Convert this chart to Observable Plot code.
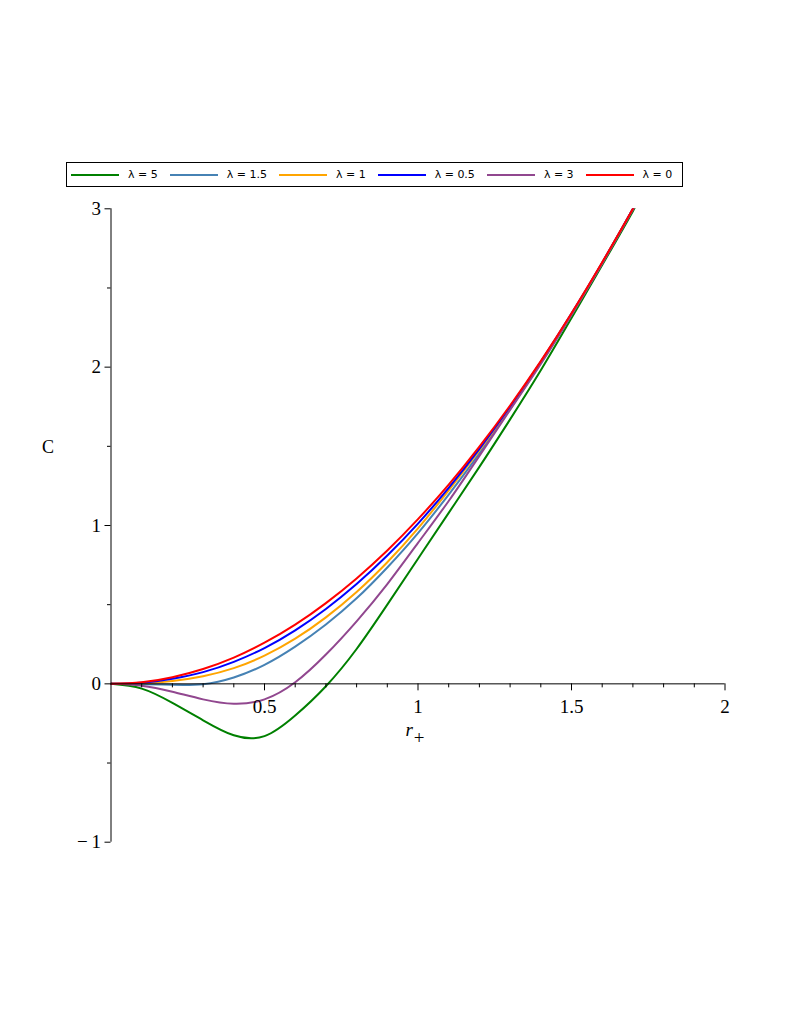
<!DOCTYPE html>
<html>
<head>
<meta charset="utf-8">
<script src="https://cdn.jsdelivr.net/npm/d3@7"></script>
<script src="https://cdn.jsdelivr.net/npm/@observablehq/plot@0.6"></script>
<style>
  body { margin: 0; background: #fff; }
  #wrap { position: relative; width: 785px; height: 1015px; }
  #chart { position: absolute; left: 0; top: 0; }
  #legend {
    position: absolute; left: 66px; top: 162px; width: 611px; height: 23px;
    border: 1px solid #000; display: flex; align-items: center;
    font-family: "DejaVu Sans", sans-serif; font-size: 11px; color: #000;
    padding-left: 4px; box-sizing: content-box; background: #fff;
  }
  #legend .item { display: flex; align-items: center; margin-right: 12px; white-space: nowrap; }
  #legend .sw { width: 48px; height: 2px; margin-right: 9px; }
</style>
</head>
<body>
<div id="wrap">
  <div id="chart"></div>
  <div id="legend"></div>
</div>
<script>
// ---- data ----
const rValues = [0, 0.1, 0.2, 0.3, 0.4, 0.5, 0.6, 0.7, 0.8, 0.9, 1.0, 1.1, 1.2, 1.3, 1.4, 1.5, 1.6, 1.7, 1.75];

const C_lambda5   = [0, -0.03, -0.12, -0.23, -0.325, -0.33, -0.2, -0.015, 0.22, 0.5, 0.79, 1.08, 1.37, 1.67, 1.98, 2.31, 2.645, 2.985, 3.17];
const C_lambda1_5 = [0, -0.002, -0.006, -0.002, 0.04, 0.12, 0.235, 0.375, 0.54, 0.735, 0.952, 1.195, 1.455, 1.735, 2.026, 2.333, 2.658, 2.998, 3.18];
const C_lambda1   = [0, 0.003, 0.018, 0.048, 0.099, 0.178, 0.285, 0.42, 0.58, 0.768, 0.982, 1.222, 1.476, 1.746, 2.032, 2.336, 2.66, 3.0, 3.18];
const C_lambda0_5 = [0, 0.007, 0.032, 0.074, 0.139, 0.226, 0.338, 0.473, 0.63, 0.81, 1.012, 1.238, 1.484, 1.75, 2.034, 2.338, 2.66, 3.0, 3.18];
const C_lambda3   = [0, -0.012, -0.05, -0.098, -0.126, -0.098, 0.01, 0.185, 0.395, 0.63, 0.89, 1.155, 1.44, 1.73, 2.02, 2.33, 2.655, 2.995, 3.175];
const C_lambda0   = [0, 0.01, 0.042, 0.094, 0.166, 0.26, 0.374, 0.51, 0.666, 0.842, 1.04, 1.258, 1.498, 1.758, 2.038, 2.34, 2.662, 3.0, 3.18];

const seriesLabels = ["λ = 5", "λ = 1.5", "λ = 1", "λ = 0.5", "λ = 3", "λ = 0"];
const seriesValues = [C_lambda5, C_lambda1_5, C_lambda1, C_lambda0_5, C_lambda3, C_lambda0];
const seriesColors = ["#008000", "#4682B4", "#FFA500", "#0000FF", "#91478F", "#FF0000"];

const xMajorTicks = [0.5, 1, 1.5, 2];
const xMinorTicks = [0.1, 0.2, 0.3, 0.4, 0.6, 0.7, 0.8, 0.9, 1.1, 1.2, 1.3, 1.4, 1.6, 1.7, 1.8, 1.9];
const yMajorTicks = [-1, 0, 1, 2, 3];
const yMinorTicks = [-0.5, 0.5, 1.5, 2.5];

// ---- build long table ----
const table = [];
seriesLabels.forEach((lab, k) => {
  rValues.forEach((r, i) => table.push({series: lab, r, C: seriesValues[k][i]}));
});

const serif = "Liberation Serif, Times New Roman, serif";

const lineMarks = seriesLabels.map((lab, k) =>
  Plot.line(table.filter(d => d.series === lab), {
    x: "r", y: "C", stroke: seriesColors[k], strokeWidth: 2,
    curve: "natural", clip: true
  })
);

const chart = Plot.plot({
  width: 785,
  height: 1015,
  marginLeft: 110.5,
  marginRight: 60.5,
  marginTop: 208.3,
  marginBottom: 173.3,
  style: {fontFamily: serif, fontSize: "19px", color: "#000", background: "#fff"},
  x: {domain: [0, 2], axis: null},
  y: {domain: [-1, 3], axis: null},
  marks: [
    ...lineMarks,
    Plot.ruleX([0], {stroke: "#000", strokeWidth: 1}),
    Plot.ruleY([0], {stroke: "#000", strokeWidth: 1}),
    Plot.ruleX(xMajorTicks, {x: d => d, y1: 0, y2: 0, insetBottom: -7, stroke: "#000"}),
    Plot.ruleX(xMinorTicks, {x: d => d, y1: 0, y2: 0, insetBottom: -4, stroke: "#000"}),
    Plot.text(xMajorTicks, {x: d => d, y: 0, dy: 23, text: d => String(d), lineAnchor: "middle", fontSize: 19, fontFamily: serif}),
    Plot.axisY(yMajorTicks, {anchor: "left", tickSize: 6, tickPadding: 4, fontSize: 19, fontFamily: serif,
      tickFormat: d => d < 0 ? "\u2212\u2009" + Math.abs(d) : String(d), label: null}),
    Plot.axisY(yMinorTicks, {anchor: "left", tickSize: 3.5, tickFormat: null, label: null, text: null}),
    Plot.text(["C"], {frameAnchor: "left", dx: -63, dy: -78, textAnchor: "middle", lineAnchor: "middle", fontSize: 18, fontFamily: serif}),
    Plot.text(["r"], {frameAnchor: "bottom", dx: -3, dy: -112, textAnchor: "middle", lineAnchor: "middle", fontSize: 19, fontFamily: serif, className: "rlabel"})
  ]
});

document.getElementById("chart").appendChild(chart);

// subscript "+" on the r label
d3.select(chart).selectAll(".rlabel text").each(function() {
  const t = d3.select(this);
  t.text(null);
  t.append("tspan").attr("font-style", "italic").text("r");
  t.append("tspan").attr("dy", "0.4em").attr("dx", "1").text("+");
});

// ---- legend ----
const legend = d3.select("#legend");
seriesLabels.forEach((lab, k) => {
  const item = legend.append("div").attr("class", "item");
  item.append("div").attr("class", "sw").style("background", seriesColors[k]);
  item.append("span").text(lab);
});
</script>
</body>
</html>
